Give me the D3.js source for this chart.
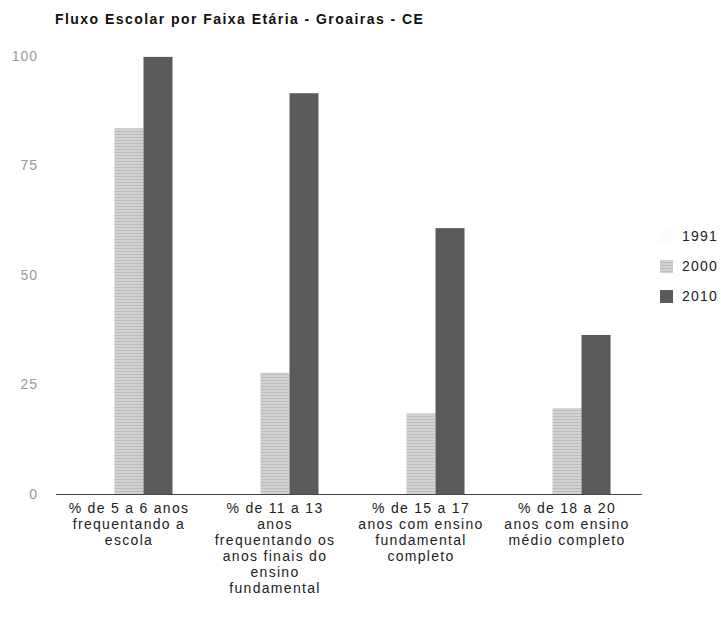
<!DOCTYPE html>
<html>
<head>
<meta charset="utf-8">
<script src="https://cdn.jsdelivr.net/npm/d3@7"></script>
<style>
  html, body { margin: 0; padding: 0; background: #fff; }
  svg { display: block; font-family: Arial, "Liberation Sans", sans-serif; }
</style>
</head>
<body>
<svg id="chart" width="721" height="625"></svg>
<script>
// ---------- 資料 ----------
const title = 'Fluxo Escolar por Faixa Etária - Groairas - CE';
const categories = ['g1', 'g2', 'g3', 'g4'];
const categoryLines = [
  ['% de 5 a 6 anos', 'frequentando a', 'escola'],
  ['% de 11 a 13', 'anos', 'frequentando os', 'anos finais do', 'ensino', 'fundamental'],
  ['% de 15 a 17', 'anos com ensino', 'fundamental', 'completo'],
  ['% de 18 a 20', 'anos com ensino', 'médio completo']
];
const years = ['1991', '2000', '2010'];
const v1991 = [null, null, null, null];
const v2000 = [83.5, 27.7, 18.4, 19.6];
const v2010 = [99.8, 91.5, 60.7, 36.3];
const yTicks = [0, 25, 50, 75, 100];

const seriesValues = [v1991, v2000, v2010];

// ---------- 版面 ----------
const svg = d3.select('#chart');
const plotLeft = 56, plotRight = 640, plotTop = 56, plotBottom = 494;

// 2000 的掃描紋理（細橫線）
const defs = svg.append('defs');
const pat = defs.append('pattern')
  .attr('id', 'hatch2000')
  .attr('patternUnits', 'userSpaceOnUse')
  .attr('width', 6).attr('height', 3);
pat.append('rect').attr('width', 6).attr('height', 3).attr('fill', '#d2d2d2');
pat.append('rect').attr('y', 2).attr('width', 6).attr('height', 1).attr('fill', '#bcbcbc');
const fills = ['#fbfbfb', 'url(#hatch2000)', '#5a5a5a'];

const x0 = d3.scaleBand().domain(categories).range([plotLeft, plotRight])
  .paddingInner(0.404).paddingOuter(0.202);
const x1 = d3.scaleBand().domain(years).range([0, x0.bandwidth()]);
const y = d3.scaleLinear().domain([0, 100]).range([plotBottom, plotTop]);

// 標題
svg.append('text')
  .attr('x', 55).attr('y', 24)
  .attr('font-size', 14).attr('font-weight', 'bold')
  .attr('letter-spacing', 1.45)
  .attr('fill', '#111')
  .text(title);

// Y 軸文字
const yAxis = d3.axisLeft(y).tickValues(yTicks).tickSize(0).tickPadding(0);
const gy = svg.append('g').attr('transform', 'translate(38,0)').call(yAxis);
gy.select('.domain').remove();
gy.selectAll('text').attr('font-size', 14).attr('fill', '#999')
  .attr('letter-spacing', 1)
  .attr('font-family', 'Arial, "Liberation Sans", sans-serif');

// 長條
const groups = svg.append('g').selectAll('g')
  .data(categories)
  .join('g')
  .attr('transform', d => `translate(${x0(d)},0)`);

groups.selectAll('rect')
  .data((d, i) => years.map((yr, s) => ({ yr, s, v: seriesValues[s][i] })).filter(e => e.v != null))
  .join('rect')
  .attr('x', d => x1(d.yr))
  .attr('y', d => y(d.v))
  .attr('width', x1.bandwidth())
  .attr('height', d => plotBottom - y(d.v))
  .attr('fill', d => fills[d.s]);

// X 軸
const xAxis = d3.axisBottom(x0).tickSize(0).tickFormat(() => '');
const gx = svg.append('g').attr('transform', `translate(0,${plotBottom})`).call(xAxis);
gx.select('.domain').attr('stroke', '#444').attr('stroke-width', 1.2)
  .attr('d', `M${plotLeft},0.5H${plotRight + 2}`);

// 類別文字（多行）
const labels = svg.append('g').selectAll('text')
  .data(categories)
  .join('text')
  .attr('text-anchor', 'middle')
  .attr('font-size', 14)
  .attr('letter-spacing', 1.3)
  .attr('fill', '#222')
  .attr('transform', d => `translate(${x0(d) + x0.bandwidth() / 2},${plotBottom + 19})`);

labels.each(function(d, i) {
  d3.select(this).selectAll('tspan')
    .data(categoryLines[i])
    .join('tspan')
    .attr('x', 0)
    .attr('dy', (t, k) => k === 0 ? 0 : 16)
    .text(t => t);
});

// 圖例
const legend = svg.append('g').attr('transform', 'translate(660,236)');
const items = legend.selectAll('g').data(years).join('g')
  .attr('transform', (d, i) => `translate(0,${i * 30})`);
items.append('rect')
  .attr('x', 0).attr('y', -6).attr('width', 13).attr('height', 13)
  .attr('fill', (d, i) => fills[i]);
items.append('text')
  .attr('x', 22).attr('y', 5)
  .attr('font-size', 14).attr('letter-spacing', 1.2)
  .attr('fill', '#222')
  .text(d => d);
</script>
</body>
</html>
